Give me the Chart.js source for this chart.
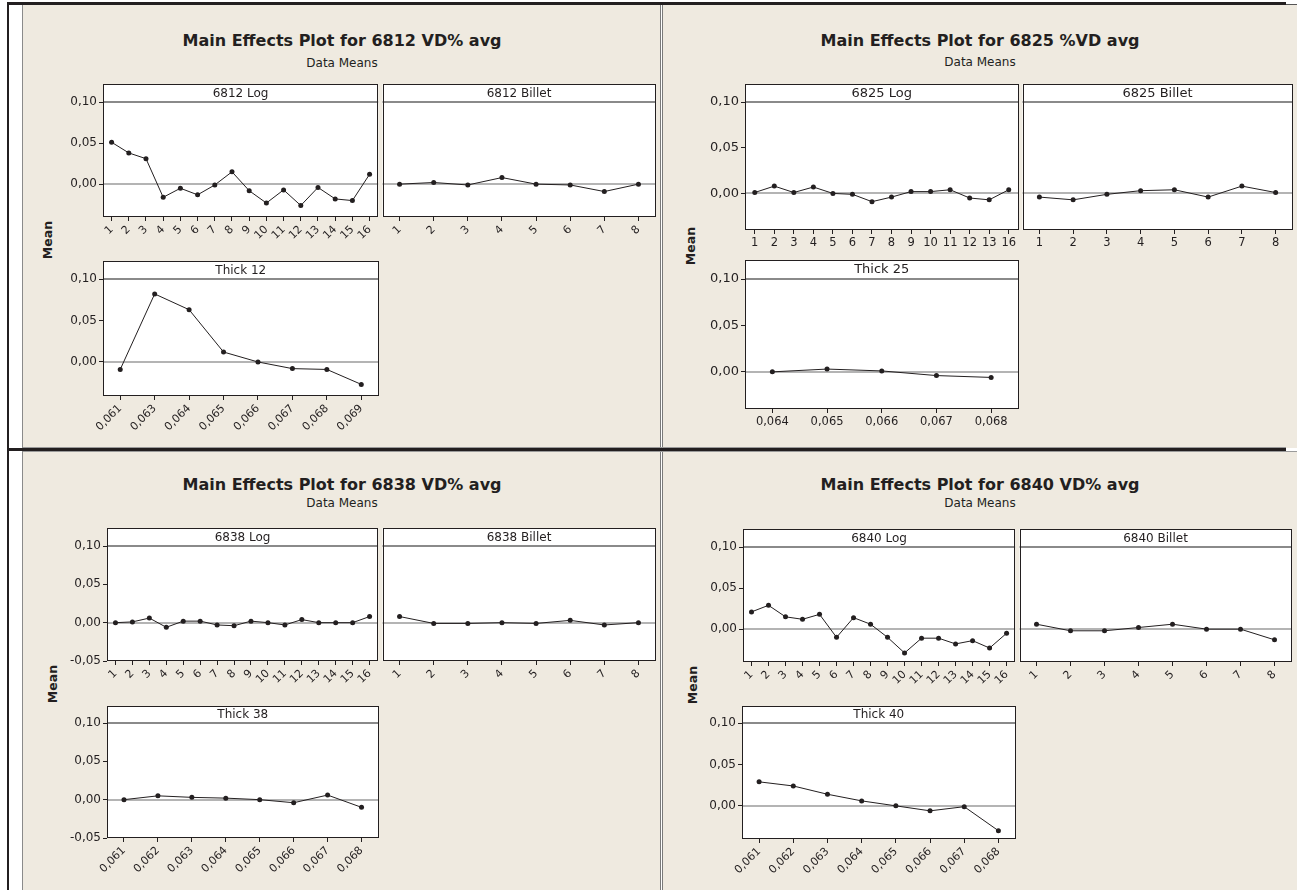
<!DOCTYPE html>
<html><head><meta charset="utf-8">
<script src="https://cdn.jsdelivr.net/npm/chart.js@4.4.1/dist/chart.umd.min.js"></script>
<style>
html,body{margin:0;padding:0;background:#fff;}
#page{position:relative;width:1297px;height:890px;overflow:hidden;background:#fff;font-family:"DejaVu Sans",sans-serif;color:#231f20;}
.r{position:absolute;}
.title{position:absolute;transform:translate(-50%,-50%);white-space:nowrap;font-weight:bold;font-size:16px;}
.sub{position:absolute;transform:translate(-50%,-50%);white-space:nowrap;font-size:12px;}
.mean{position:absolute;transform:translate(-50%,-50%) rotate(-90deg);font-weight:bold;font-size:12.5px;white-space:nowrap;}
canvas{position:absolute;}
</style></head>
<body><div id="page"></div>
<script>
// ---------- data ----------
const log16Levels = ['1','2','3','4','5','6','7','8','9','10','11','12','13','14','15','16'];
const log14Levels = ['1','2','3','4','5','6','7','8','9','10','11','12','13','16'];
const billetLevels = ['1','2','3','4','5','6','7','8'];
const thick12Levels = ['0,061','0,063','0,064','0,065','0,066','0,067','0,068','0,069'];
const thick25Levels = ['0,064','0,065','0,066','0,067','0,068'];
const thick38Levels = ['0,061','0,062','0,063','0,064','0,065','0,066','0,067','0,068'];
const thick40Levels = ['0,061','0,062','0,063','0,064','0,065','0,066','0,067','0,068'];

const yTicksPos = [0, 0.05, 0.10];
const yTicksNeg = [-0.05, 0, 0.05, 0.10];

const means6812Log    = [0.051, 0.038, 0.031, -0.016, -0.005, -0.013, -0.001, 0.015, -0.008, -0.023, -0.007, -0.026, -0.004, -0.018, -0.020, 0.012];
const means6812Billet = [0.000, 0.002, -0.001, 0.008, 0.000, -0.001, -0.009, 0.000];
const means6812Thick  = [-0.009, 0.082, 0.063, 0.012, 0.000, -0.008, -0.009, -0.027];

const means6825Log    = [0.001, 0.008, 0.001, 0.007, 0.000, -0.001, -0.009, -0.004, 0.002, 0.002, 0.004, -0.005, -0.007, 0.004];
const means6825Billet = [-0.004, -0.007, -0.001, 0.003, 0.004, -0.004, 0.008, 0.001];
const means6825Thick  = [0.000, 0.003, 0.001, -0.004, -0.006];

const means6838Log    = [0.000, 0.001, 0.006, -0.006, 0.002, 0.002, -0.003, -0.004, 0.002, 0.000, -0.003, 0.004, 0.000, 0.000, 0.000, 0.008];
const means6838Billet = [0.008, -0.001, -0.001, 0.000, -0.001, 0.003, -0.003, 0.000];
const means6838Thick  = [0.000, 0.005, 0.003, 0.002, 0.000, -0.004, 0.006, -0.010];

const means6840Log    = [0.021, 0.029, 0.015, 0.012, 0.018, -0.010, 0.014, 0.006, -0.010, -0.029, -0.011, -0.011, -0.018, -0.014, -0.023, -0.005];
const means6840Billet = [0.006, -0.002, -0.002, 0.002, 0.006, 0.000, 0.000, -0.013];
const means6840Thick  = [0.029, 0.024, 0.014, 0.006, 0.000, -0.006, -0.001, -0.030];

const panelTitles = ['Main Effects Plot for 6812 VD% avg','Main Effects Plot for 6825 %VD avg','Main Effects Plot for 6838 VD% avg','Main Effects Plot for 6840 VD% avg'];
const subTitle = 'Data Means';
const yAxisName = 'Mean';
const stripNames = [['6812 Log','6812 Billet','Thick 12'],['6825 Log','6825 Billet','Thick 25'],['6838 Log','6838 Billet','Thick 38'],['6840 Log','6840 Billet','Thick 40']];

// ---------- page frame ----------
const page = document.getElementById('page');
function rect(x,y,w,h,c){const d=document.createElement('div');d.className='r';d.style.cssText=`left:${x}px;top:${y}px;width:${w}px;height:${h}px;background:${c}`;page.appendChild(d);}
function text(cls,x,y,t){const d=document.createElement('div');d.className=cls;d.style.left=x+'px';d.style.top=y+'px';d.textContent=t;page.appendChild(d);return d;}

rect(23,5,1274,885,'#efeae0');
rect(22,5,1,885,'#8a8a8a');
rect(7,2,2,888,'#231f20');
rect(7,2,1279,3,'#231f20');
rect(1286,4,11,1,'#555');
rect(660,5,1,885,'#7a7a7a');
rect(661,5,1,885,'#ffffff');
rect(662,5,1,885,'#7a7a7a');
rect(23,447,1263,1,'#9a9a9a');
rect(8,448,1278,3,'#231f20');
rect(1286,448,11,3,'#ffffff');
rect(1286,451,11,1,'#555');
rect(23,451,1274,1,'#9a9a9a');

// ---------- subplot ----------
const framePlugin = {
  id:'frame',
  beforeDraw(chart,args,o){
    const {ctx,chartArea:a}=chart;
    ctx.save();
    ctx.fillStyle='#ffffff';
    ctx.fillRect(a.left,a.top-o.strip,a.right-a.left,a.bottom-a.top+o.strip);
    ctx.restore();
  },
  beforeDatasetsDraw(chart,args,o){
    const {ctx,chartArea:a,scales}=chart;
    const y0=Math.round(scales.y.getPixelForValue(0));
    ctx.save();
    ctx.strokeStyle='#9b9b9b';ctx.lineWidth=1.5;
    ctx.beginPath();ctx.moveTo(a.left,y0);ctx.lineTo(a.right,y0);ctx.stroke();
    ctx.restore();
  },
  afterDatasetsDraw(chart,args,o){
    const {ctx,chartArea:a}=chart;
    ctx.save();
    ctx.strokeStyle='#8a8a8a';ctx.lineWidth=2;
    ctx.beginPath();ctx.moveTo(a.left,a.top);ctx.lineTo(a.right,a.top);ctx.stroke();
    ctx.strokeStyle='#231f20';ctx.lineWidth=1;
    const L=Math.round(a.left)+0.5,R=Math.round(a.right)-0.5,T=Math.round(a.top-o.strip)+0.5,B=Math.round(a.bottom)-0.5;
    ctx.strokeRect(L,T,R-L,B-T);
    ctx.fillStyle='#231f20';ctx.font=o.sfs+'px "DejaVu Sans"';ctx.textAlign='center';ctx.textBaseline='middle';
    ctx.fillText(o.label,(a.left+a.right)/2,a.top-o.strip/2+0.5);
    ctx.restore();
  }
};

function fmt(v){return (Math.round(v*100)/100).toFixed(2).replace('.',',');}

function sub(c){
  const yW=c.yShow?c.yW:0, xH=c.xH, rp=1;
  const cw=yW+c.w+rp, ch=c.strip+c.h+xH;
  const cv=document.createElement('canvas');
  cv.width=cw;cv.height=ch;
  cv.style.left=(c.x-yW)+'px';cv.style.top=(c.top-c.strip)+'px';
  cv.style.width=cw+'px';cv.style.height=ch+'px';
  page.appendChild(cv);
  new Chart(cv,{
    type:'line',
    data:{labels:c.labels,datasets:[{data:c.data,borderColor:'#231f20',borderWidth:1,pointRadius:2.5,pointBackgroundColor:'#231f20',pointBorderWidth:0,pointHoverRadius:2.5,tension:0}]},
    options:{
      responsive:false,animation:false,devicePixelRatio:1,
      layout:{padding:{top:c.strip,right:rp,left:0,bottom:0}},
      events:[],
      plugins:{legend:{display:false},tooltip:{enabled:false},title:{display:false},
        frame:{strip:c.strip,label:c.label,sfs:c.sfs}},
      scales:{
        x:{type:'category',offset:true,
          grid:{display:true,drawOnChartArea:false,drawTicks:true,tickLength:4,offset:false,color:'#231f20',lineWidth:1},
          border:{display:false},
          ticks:{autoSkip:false,minRotation:c.rot,maxRotation:c.rot,padding:2,color:'#231f20',font:{family:'DejaVu Sans',size:c.xfs}},
          afterFit(s){s.height=xH;}},
        y:{type:'linear',min:c.yMin,max:0.10,display:c.yShow,
          grid:{display:true,drawOnChartArea:false,drawTicks:true,tickLength:4,color:'#231f20',lineWidth:1},
          border:{display:false},
          ticks:{padding:2,color:'#231f20',font:{family:'DejaVu Sans',size:c.yfs},callback:(v)=>fmt(v)},
          afterBuildTicks(s){s.ticks=c.yTicks.map(v=>({value:v}));},
          afterFit(s){s.width=yW;}}
      }
    },
    plugins:[framePlugin]
  });
}

function panel(p){
  text('title',p.cx,p.ty,p.title);
  text('sub',p.cx,p.sy,subTitle);
  text('mean',p.mx,p.my,yAxisName);
  sub({x:p.logX,top:p.r1Top,w:p.logW,h:p.r1H,strip:p.strip1,yShow:true,yW:p.yW,xH:p.xH1,labels:p.logLabels,data:p.logData,yMin:p.yMin,yTicks:p.yTicks,rot:p.rot,label:p.names[0],xfs:p.xfs,yfs:p.yfs,sfs:p.sfs});
  sub({x:p.billX,top:p.r1Top,w:p.billW,h:p.r1H,strip:p.strip1,yShow:false,yW:0,xH:p.xH1,labels:billetLevels,data:p.billData,yMin:p.yMin,yTicks:p.yTicks,rot:p.rot,label:p.names[1],xfs:p.xfs,yfs:p.yfs,sfs:p.sfs});
  sub({x:p.thX,top:p.r2Top,w:p.thW,h:p.r2H,strip:p.strip2,yShow:true,yW:p.yW,xH:p.xH2,labels:p.thLabels,data:p.thData,yMin:p.yMin2,yTicks:p.yTicks,rot:p.rot,label:p.names[2],xfs:p.xfs,yfs:p.yfs,sfs:p.sfs});
}

panel({title:panelTitles[0],cx:342,ty:40,sy:63,mx:47,my:240,names:stripNames[0],
  logX:103,logW:277,billX:380,billW:277,r1Top:102,r1H:115,strip1:18,
  thX:103,thW:277,r2Top:279,r2H:117,strip2:18,
  yW:60,xH1:30,xH2:44,yMin:-0.04,yMin2:-0.041,yTicks:yTicksPos,rot:45,xfs:11,yfs:12,sfs:12,
  logLabels:log16Levels,logData:means6812Log,billData:means6812Billet,thLabels:thick12Levels,thData:means6812Thick});

panel({title:panelTitles[1],cx:980,ty:40,sy:62,mx:690,my:246,names:stripNames[1],
  logX:745,logW:275,billX:1020,billW:274,r1Top:102,r1H:128,strip1:18,
  thX:745,thW:275,r2Top:279,r2H:130,strip2:19,
  yW:60,xH1:30,xH2:30,yMin:-0.04,yMin2:-0.04,yTicks:yTicksPos,rot:0,xfs:11.5,yfs:13,sfs:13,
  logLabels:log14Levels,logData:means6825Log,billData:means6825Billet,thLabels:thick25Levels,thData:means6825Thick});

panel({title:panelTitles[2],cx:342,ty:484,sy:503,mx:52,my:684,names:stripNames[2],
  logX:107,logW:273,billX:380,billW:277,r1Top:546,r1H:115,strip1:18,
  thX:107,thW:273,r2Top:723,r2H:115,strip2:17,
  yW:64,xH1:30,xH2:44,yMin:-0.05,yMin2:-0.05,yTicks:yTicksNeg,rot:45,xfs:11,yfs:12,sfs:12,
  logLabels:log16Levels,logData:means6838Log,billData:means6838Billet,thLabels:thick38Levels,thData:means6838Thick});

panel({title:panelTitles[3],cx:980,ty:484,sy:503,mx:692,my:685,names:stripNames[3],
  logX:743,logW:274,billX:1017,billW:276,r1Top:547,r1H:115,strip1:18,
  thX:742,thW:275,r2Top:723,r2H:116,strip2:17,
  yW:60,xH1:30,xH2:44,yMin:-0.04,yMin2:-0.04,yTicks:yTicksPos,rot:45,xfs:11,yfs:12,sfs:12,
  logLabels:log16Levels,logData:means6840Log,billData:means6840Billet,thLabels:thick40Levels,thData:means6840Thick});
</script>
</body></html>
